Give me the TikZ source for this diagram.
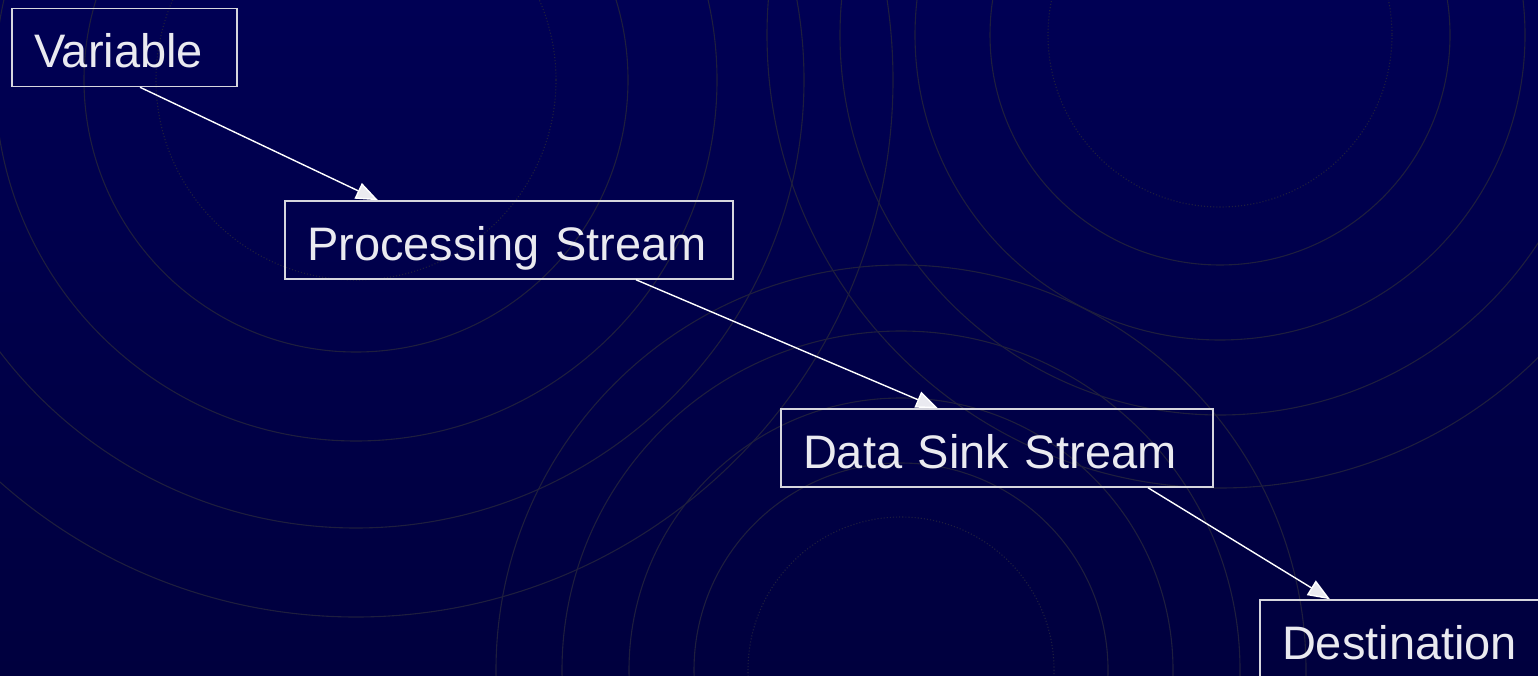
\documentclass[tikz,border=0pt]{standalone}
\usepackage{fontspec}
\setmainfont{Liberation Sans}
\usetikzlibrary{arrows.meta}
\definecolor{bgtop}{RGB}{0,0,84}
\definecolor{bgmid}{RGB}{0,0,106}
\definecolor{bgbottom}{RGB}{0,0,62}
\definecolor{ringcol}{RGB}{30,30,62}
\definecolor{boxcol}{RGB}{214,214,222}
\definecolor{labelcol}{RGB}{234,234,240}
\tikzset{
  stage/.style={draw=boxcol, line width=1.5pt, text=labelcol,
    font=\fontsize{47}{56}\selectfont, minimum height=78pt,
    inner xsep=22pt, text height=41pt, text depth=0pt, align=left},
  flow/.style={draw=white, line width=1.4pt,
    -{Triangle[length=22pt, width=17pt, fill=labelcol]}},
  ring/.style={draw=ringcol, line width=1.1pt},
}
\begin{document}
\begin{tikzpicture}[x=1pt, y=-1pt]
\useasboundingbox (0, 0) rectangle (1538, 676);
\clip (0, 0) rectangle (1538, 676);
\shade [top color=bgtop, middle color=bgmid, bottom color=bgbottom] (0, 0) rectangle (1538, 676);
% rings upper left
\draw [ring, dotted] (356, 80) circle (200);
\draw [ring] (356, 80) circle (272);
\draw [ring] (356, 80) circle (361);
\draw [ring] (356, 80) circle (448);
\draw [ring] (356, 80) circle (537);
% rings upper right
\draw [ring, dotted] (1220, 35) circle (172);
\draw [ring] (1220, 35) circle (230);
\draw [ring] (1220, 35) circle (305);
\draw [ring] (1220, 35) circle (380);
\draw [ring] (1220, 35) circle (453);
% rings bottom
\draw [ring, dotted] (901, 670) circle (153);
\draw [ring] (901, 670) circle (207);
\draw [ring] (901, 670) circle (272);
\draw [ring] (901, 670) circle (339);
\draw [ring] (901, 670) circle (405);
% boxes
\node [stage, text width=181pt] (var) at (124.5, 47.5) {Variable};
\node [stage, text width=404pt] (proc) at (509, 240) {Processing Stream};
\node [stage, text width=388pt] (sink) at (997, 448) {Data Sink Stream};
\node [stage, text width=246pt] (dest) at (1405, 639) {Destination};
% arrows
\draw [flow] ([shift={(15.5, 0)}]var.south) -- ([shift={(-131, 0)}]proc.north);
\draw [flow] ([shift={(127, 0)}]proc.south) -- ([shift={(-59, 0)}]sink.north);
\draw [flow] ([shift={(151, 0)}]sink.south) -- ([shift={(-75, 0)}]dest.north);
\end{tikzpicture}
\end{document}
